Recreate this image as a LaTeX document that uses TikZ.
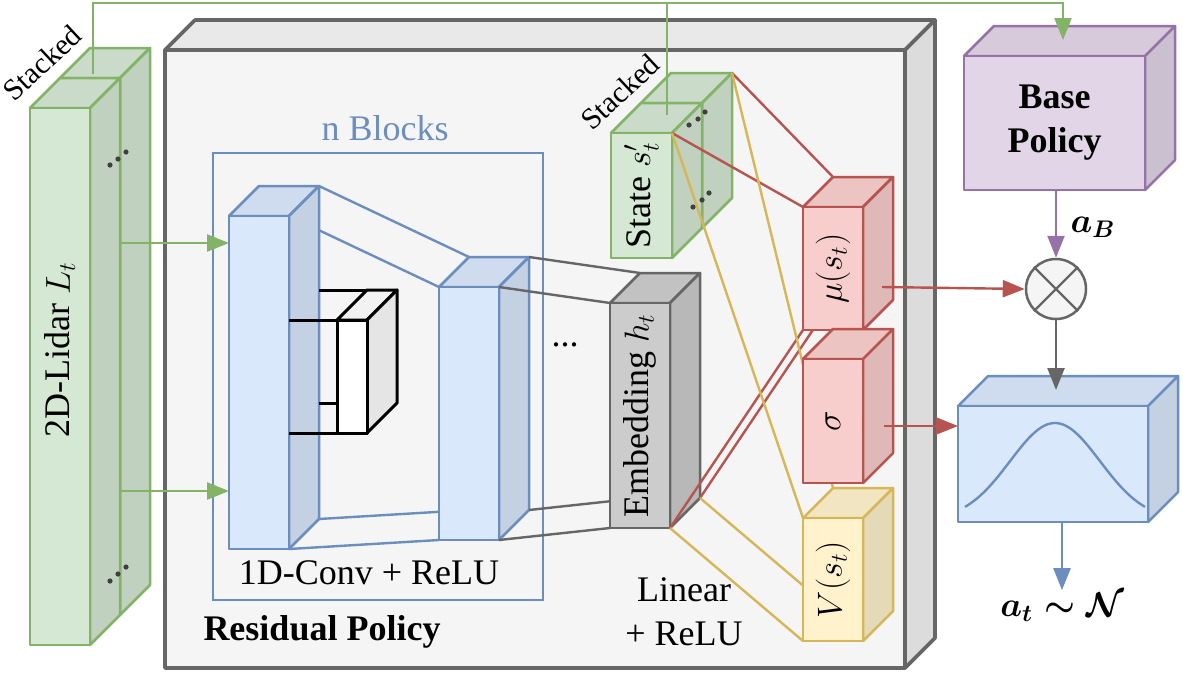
\documentclass[tikz,border=0pt]{standalone}
\usepackage{fontspec}
\setmainfont{Liberation Serif}
\newfontfamily\figfont{Liberation Serif}
\usepackage{amsmath}
\usetikzlibrary{arrows.meta,calc}

\definecolor{grnfill}{HTML}{D5E8D4}\definecolor{grnline}{HTML}{82B366}
\definecolor{blufill}{HTML}{DAE8FC}\definecolor{bluline}{HTML}{6C8EBF}
\definecolor{redfill}{HTML}{F8CECC}\definecolor{redline}{HTML}{B85450}
\definecolor{yelfill}{HTML}{FFF2CC}\definecolor{yelline}{HTML}{D6B656}
\definecolor{purfill}{HTML}{E1D5E7}\definecolor{purline}{HTML}{9673A6}
\definecolor{gryfill}{HTML}{F5F5F5}\definecolor{gryline}{HTML}{666666}
\definecolor{embfill}{HTML}{CCCCCC}\definecolor{embline}{HTML}{666666}
\definecolor{blkfill}{HTML}{FFFFFF}\definecolor{blkline}{HTML}{000000}
\definecolor{dotcol}{HTML}{404040}

\tikzset{
  face/.style={draw=#1line,line width=1.25pt,line join=round},
  link/.style={draw=#1line,line width=1.2pt},
  arr/.style={draw=#1line,line width=1.2pt,-{Triangle[length=11pt,width=8.5pt]}},
  txt/.style={font=\figfont\fontsize{18}{22}\selectfont,inner sep=1pt},
  txtb/.style={font=\figfont\fontsize{18}{22}\selectfont\bfseries,inner sep=1pt},
  smalltxt/.style={font=\figfont\fontsize{15}{18}\selectfont,inner sep=1pt}
}

\newcommand{\depth}{30}
% corners of a box: front face top-left at (#2,#3), size #4 x #5
\newcommand{\boxcorners}[5]{%
  \path (#2,#3) coordinate (#1-ftl) ++(#4,0) coordinate (#1-ftr)
    ++(0,#5) coordinate (#1-fbr) ++(-#4,0) coordinate (#1-fbl);
  \foreach \cn in {tl,tr,br,bl}{\path (#1-f\cn) ++(\depth,-\depth) coordinate (#1-b\cn);}
  \coordinate (#1) at ($(#1-ftl)!0.5!(#1-fbr)$);}
% top, side and front face of a box
\newcommand{\boxfaces}[3][]{%
  \filldraw[face=#3,fill=#3fill!95!black,#1] (#2-ftl) -- (#2-btl) -- (#2-btr) -- (#2-ftr) -- cycle;
  \filldraw[face=#3,fill=#3fill!90!black,#1] (#2-ftr) -- (#2-btr) -- (#2-bbr) -- (#2-fbr) -- cycle;
  \filldraw[face=#3,fill=#3fill,#1] (#2-ftl) rectangle (#2-fbr);}

\begin{document}
\begin{tikzpicture}[x=0.5pt,y=-0.5pt]
  \useasboundingbox (0,0) rectangle (1183,675);
  \boxcorners{res}{165}{50}{740}{618}
  \boxcorners{lidarB}{60}{78}{60}{537}
  \boxcorners{lidar}{30}{108}{60}{537}
  \boxcorners{b1}{229}{216}{60}{333}
  \boxcorners{b2}{439}{287}{60}{253}
  \boxcorners{skip}{337}{320}{30}{113}
  \boxcorners{emb}{610}{303}{60}{225}
  \boxcorners{stB}{641}{103}{61}{125}
  \boxcorners{st}{611}{133}{61}{125}
  \boxcorners{mu}{803}{207}{60}{123}
  \boxcorners{sig}{803}{359}{60}{124}
  \boxcorners{val}{803}{518}{60}{123}
  \boxcorners{bp}{964}{56}{181}{134}
  \boxcorners{gs}{958}{406}{190}{116}
  \coordinate (topline) at (0,3);
  \coordinate (lidar-feed) at (93,74);
  \coordinate (st-feed) at (667,115);
  \coordinate (bp-in) at (1063,40);
  \coordinate (lidar-out1) at (120,243);
  \coordinate (lidar-out2) at (120,491);
  \coordinate (mu-out) at (882,287);
  \coordinate (sig-out) at (884,426);

  % residual policy
  \boxfaces[line width=1.8pt]{res}{gry}
  \draw[link=blu] (213,153) rectangle (543,600);
  \node[txt,text=bluline] (blocks-lbl) at (385,128) {n Blocks};
  \node[txt] (conv-lbl) at (369,573) {1D-Conv + ReLU};
  \node[txtb] (res-lbl) at (322,632) {Residual Policy};

  % lidar input
  \boxfaces{lidarB}{grn}
  \boxfaces{lidar}{grn}
  \foreach \p in {(110,165),(118,159),(126,152),(110,581),(118,574),(126,567)}
    \fill[dotcol] \p circle[radius=1.3pt];
  \node[txt,rotate=90] (lidar-lbl) at (60,350) {2D-Lidar $L_t$};
  \node[smalltxt,rotate=43] (stack1-lbl) at (42,63) {Stacked};
  \draw[arr=grn] (lidar-out1) -- (lidar-out1 -| b1-ftl);
  \draw[arr=grn] (lidar-out2) -- (lidar-out2 -| b1-ftl);

  % conv blocks
  \draw[link=blu] (b1-ftr) -- (b2-ftl);
  \draw[link=blu] (b1-btr) -- (b2-btl);
  \draw[link=blu] (b1-fbr) -- (b2-fbl);
  \draw[link=blu] (b1-bbr) -- (b2-bbl);
  \boxfaces{b1}{blu}
  \boxfaces{b2}{blu}
  \draw[link=blk,line width=1.5pt] (b1-ftr |- skip-ftl) -- (skip-ftl);
  \draw[link=blk,line width=1.5pt] (b1-btr |- skip-btl) -- (skip-btl);
  \draw[link=blk,line width=1.5pt] (b1-btr |- skip-bbl) -- (skip-bbl -| skip-ftl);
  \draw[link=blk,line width=1.5pt] (b1-fbr |- skip-fbl) -- (skip-fbl);
  \boxfaces[line width=1.5pt]{skip}{blk}

  % embedding
  \draw[link=gry] (b2-btr) -- (emb-btl);
  \draw[link=gry] (b2-ftr) -- (emb-ftl);
  \draw[link=gry] (b2-bbr) -- (emb-bbl);
  \draw[link=gry] (b2-fbr) -- (emb-fbl);
  \boxfaces{emb}{emb}
  \node[txt,rotate=90] (emb-lbl) at (emb) {Embedding $h_t$};
  \node[txt] (gap-lbl) at (565,345) {...};

  % state
  \boxfaces{stB}{grn}
  \boxfaces{st}{grn}
  \foreach \p in {(689,125),(698,119),(705,112),(693,207),(702,200),(709,193)}
    \fill[dotcol] \p circle[radius=1.3pt];
  \node[txt,rotate=90] (st-lbl) at (st) {State $s'_t$};
  \node[smalltxt,rotate=43] (stack2-lbl) at (620,92) {Stacked};

  % heads
  \draw[link=red] (stB-btr) -- (mu-btl);
  \draw[link=red] (st-ftr) -- (mu-ftl);
  \draw[link=red] (emb-bbr) -- (mu-bbl);
  \draw[link=red] (emb-fbr) -- (mu-fbl);
  \draw[link=yel] (stB-btr) -- (val-btl);
  \draw[link=yel] (st-ftr) -- (val-ftl);
  \draw[link=yel] (emb-bbr) -- (val-bbl);
  \draw[link=yel] (emb-fbr) -- (val-fbl);
  \boxfaces{mu}{red}
  \boxfaces{sig}{red}
  \boxfaces{val}{yel}
  \node[txt,rotate=90] (mu-lbl) at (mu) {$\mu(s_t)$};
  \node[txt,rotate=90] (sig-lbl) at (sig) {$\sigma$};
  \node[txt,rotate=90] (val-lbl) at (val) {$V(s_t)$};
  \node[txt,align=center] (lin-lbl) at (684,612) {Linear\\+ ReLU};

  % base policy and output
  \boxfaces{bp}{pur}
  \node[txtb,align=center] (bp-lbl) at (bp) {Base\\Policy};
  \node[circle,draw=gryline,fill=gryfill,line width=1.25pt,minimum size=30pt,inner sep=0pt] (mult) at (1056,289) {};
  \draw[link=gry] (mult.north west) -- (mult.south east) (mult.north east) -- (mult.south west);
  \boxfaces{gs}{blu}
  \draw[link=blu] plot[domain=-1:1,samples=60,smooth] ({1055+90*\x},{520-97*exp(-2*\x*\x)});
  \draw[arr=pur] (mult.north |- bp-fbl) -- (mult.north);
  \node[txt] (aB-lbl) at (1093,227) {$\boldsymbol{a_B}$};
  \draw[arr=red] (mu-out) -- (mult.west);
  \draw[arr=red] (sig-out) -- (sig-out -| gs-ftl);
  \draw[arr=gry] (mult.south) -- (mult.south |- 0,390);
  \node[txt] (at-lbl) at (1062,607) {$\boldsymbol{a_t\sim\mathcal{N}}$};
  \draw[arr=blu] (at-lbl.north |- gs-fbl) -- (at-lbl.north);

  % stacked inputs to base policy
  \draw[arr=grn] (lidar-feed) |- (bp-in |- topline) -- (bp-in);
  \draw[link=grn] (st-feed) -- (st-feed |- topline);
\end{tikzpicture}
\end{document}
